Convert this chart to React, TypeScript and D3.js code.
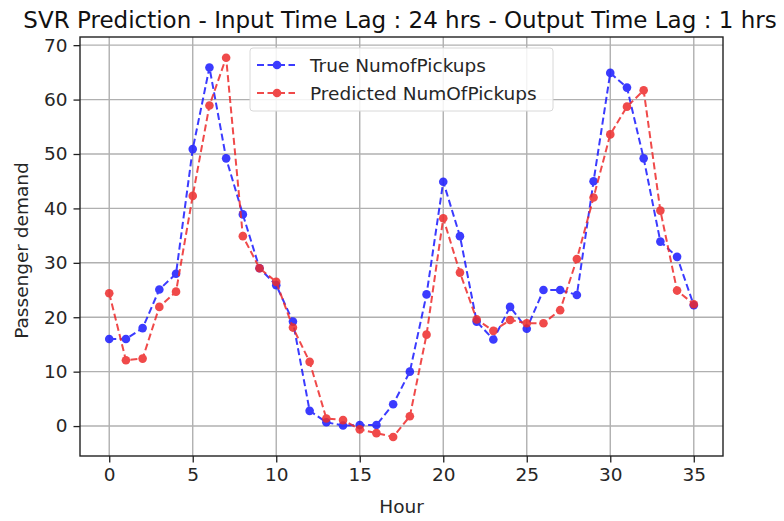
import React, { useEffect, useRef } from "react";
import * as d3 from "d3";

const hours = d3.range(0, 36);
const trueValues = [
  16, 16, 18, 25.1, 28, 50.9, 65.9, 49.2, 38.9, 29, 25.9, 19.2, 2.8, 0.7, 0.1, 0.2, 0.2, 4,
  10, 24.2, 44.9, 34.9, 19.2, 15.9, 21.9, 17.9, 25, 25, 24.1, 45, 64.9, 62.2, 49.2, 33.9, 31.1, 22.2,
];
const predValues = [
  24.4, 12.1, 12.4, 21.9, 24.7, 42.3, 58.9, 67.7, 34.9, 29, 26.5, 18.1, 11.8, 1.4, 1.1, -0.6, -1.3, -2,
  1.8, 16.8, 38.2, 28.2, 19.6, 17.5, 19.5, 18.9, 18.9, 21.3, 30.7, 42, 53.6, 58.7, 61.7, 39.6, 24.9, 22.4,
];
const xTicks = [0, 5, 10, 15, 20, 25, 30, 35];
const yTicks = [0, 10, 20, 30, 40, 50, 60, 70];
const seriesNames = ["True NumofPickups", "Predicted NumOfPickups"];
const seriesColors = ["#1a1aff", "#ee2b2b"];

const W = 784;
const H = 521;
const margin = { left: 80, right: 61, top: 37, bottom: 65 };

const App = () => {
  const svgRef = useRef<SVGSVGElement>(null);

  useEffect(() => {
    const svg = d3.select(svgRef.current);
    svg.selectAll("*").remove();
    const font = "DejaVu Sans, sans-serif";

    const x = d3.scaleLinear().domain([-1.75, 36.75]).range([margin.left, W - margin.right]);
    const y = d3.scaleLinear().domain([-5.5, 71.5]).range([H - margin.bottom, margin.top]);

    // grid
    const grid = svg.append("g");
    grid
      .selectAll(".gx")
      .data(xTicks)
      .join("line")
      .attr("x1", (d) => x(d))
      .attr("x2", (d) => x(d))
      .attr("y1", y.range()[0])
      .attr("y2", y.range()[1])
      .attr("stroke", "#b0b0b0")
      .attr("stroke-width", 1.4);
    grid
      .selectAll(".gy")
      .data(yTicks)
      .join("line")
      .attr("y1", (d) => y(d))
      .attr("y2", (d) => y(d))
      .attr("x1", x.range()[0])
      .attr("x2", x.range()[1])
      .attr("stroke", "#b0b0b0")
      .attr("stroke-width", 1.4);

    // axes
    const xAxis = d3.axisBottom(x).tickValues(xTicks).tickSize(6.5).tickPadding(5);
    const yAxis = d3.axisLeft(y).tickValues(yTicks).tickSize(6.5).tickPadding(6);
    const gx = svg.append("g").attr("transform", `translate(0,${H - margin.bottom})`).call(xAxis);
    const gy = svg.append("g").attr("transform", `translate(${margin.left},0)`).call(yAxis);
    [gx, gy].forEach((g) => {
      g.select(".domain").remove();
      g.selectAll("line").attr("stroke", "#222").attr("stroke-width", 1.3);
      g.selectAll("text").attr("font-family", font).attr("font-size", 18.5).attr("fill", "#262626");
    });

    // frame
    svg
      .append("rect")
      .attr("x", margin.left)
      .attr("y", margin.top)
      .attr("width", W - margin.left - margin.right)
      .attr("height", H - margin.top - margin.bottom)
      .attr("fill", "none")
      .attr("stroke", "#222")
      .attr("stroke-width", 1.4);

    // series
    const line = d3
      .line<number>()
      .x((d, i) => x(hours[i]))
      .y((d) => y(d));
    [trueValues, predValues].forEach((vals, k) => {
      const g = svg.append("g").attr("opacity", 0.85);
      g.append("path")
        .attr("d", line(vals))
        .attr("fill", "none")
        .attr("stroke", seriesColors[k])
        .attr("stroke-width", 2)
        .attr("stroke-dasharray", "7,3.5");
      g.selectAll("circle")
        .data(vals)
        .join("circle")
        .attr("cx", (d, i) => x(hours[i]))
        .attr("cy", (d) => y(d))
        .attr("r", 4.3)
        .attr("fill", seriesColors[k]);
    });

    // legend
    const lg = svg.append("g").attr("transform", "translate(250,48)");
    lg.append("rect")
      .attr("width", 303)
      .attr("height", 63)
      .attr("rx", 3)
      .attr("fill", "white")
      .attr("fill-opacity", 0.85)
      .attr("stroke", "#d8d8d8");
    seriesNames.forEach((name, k) => {
      const yy = 17 + k * 28;
      const row = lg.append("g").attr("opacity", 0.85);
      row
        .append("line")
        .attr("x1", 7)
        .attr("x2", 45)
        .attr("y1", yy)
        .attr("y2", yy)
        .attr("stroke", seriesColors[k])
        .attr("stroke-width", 2)
        .attr("stroke-dasharray", "7,3.5");
      row.append("circle").attr("cx", 27).attr("cy", yy).attr("r", 4.3).attr("fill", seriesColors[k]);
      lg.append("text")
        .attr("x", 60)
        .attr("y", yy + 7)
        .attr("font-family", font)
        .attr("font-size", 18.5)
        .attr("fill", "#262626")
        .text(name);
    });

    // labels
    svg
      .append("text")
      .attr("x", 400)
      .attr("y", 28)
      .attr("text-anchor", "middle")
      .attr("font-family", font)
      .attr("font-size", 23)
      .attr("fill", "#111")
      .text("SVR Prediction - Input Time Lag : 24 hrs - Output Time Lag : 1 hrs");
    svg
      .append("text")
      .attr("x", (margin.left + W - margin.right) / 2)
      .attr("y", 513)
      .attr("text-anchor", "middle")
      .attr("font-family", font)
      .attr("font-size", 18.5)
      .attr("fill", "#262626")
      .text("Hour");
    svg
      .append("text")
      .attr("transform", `translate(28,${(margin.top + H - margin.bottom) / 2 + 4}) rotate(-90)`)
      .attr("text-anchor", "middle")
      .attr("font-family", font)
      .attr("font-size", 18.5)
      .attr("fill", "#262626")
      .text("Passenger demand");
  }, []);

  return (
    <svg
      ref={svgRef}
      width={W}
      height={H}
      style={{ position: "absolute", left: 0, top: 0, background: "white" }}
    ></svg>
  );
};

export default App;
